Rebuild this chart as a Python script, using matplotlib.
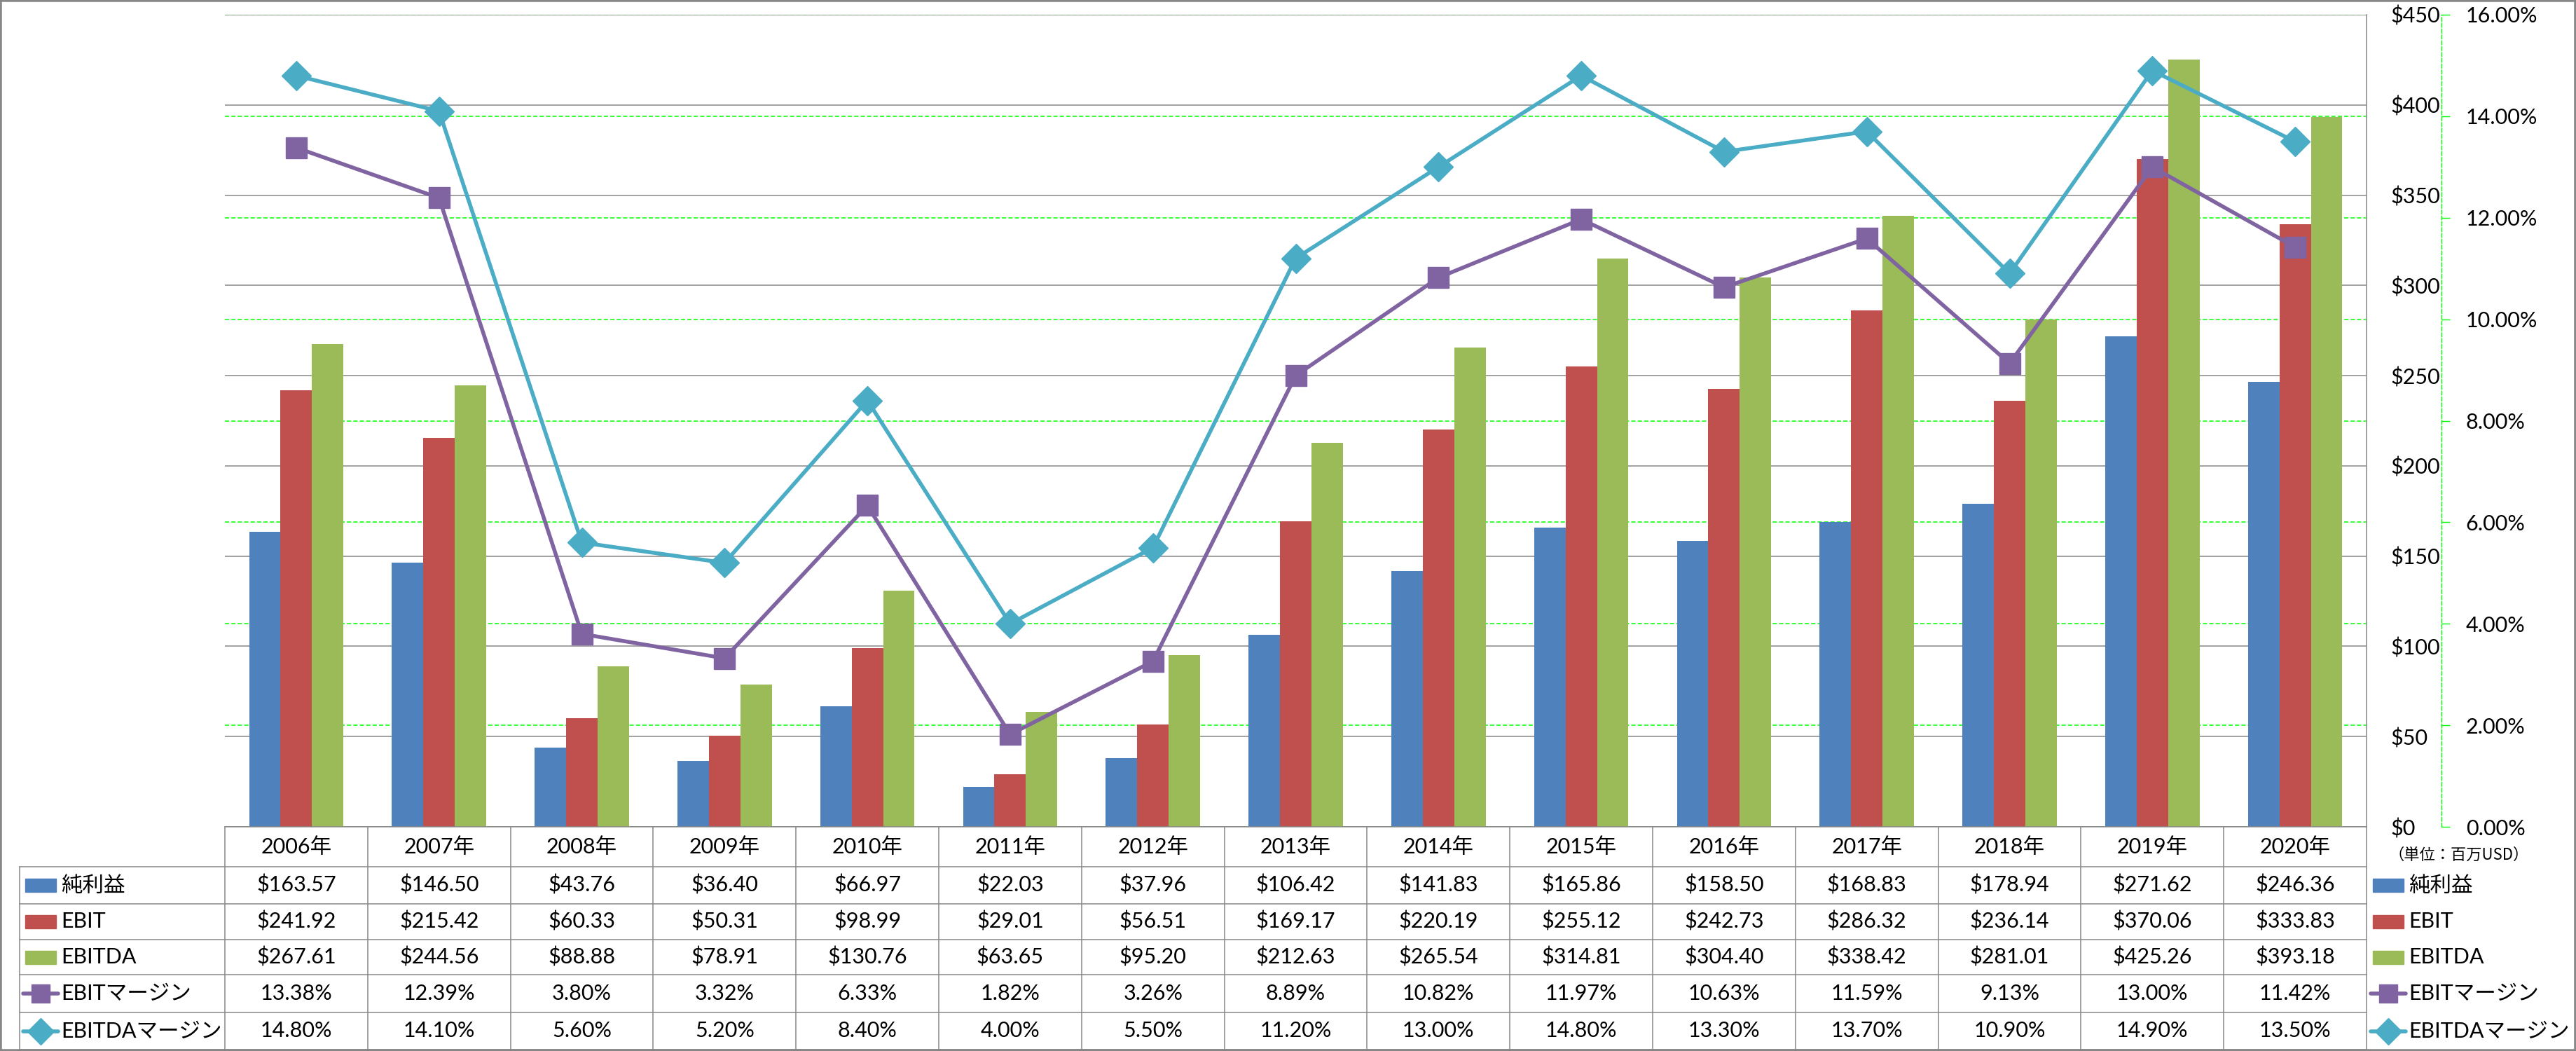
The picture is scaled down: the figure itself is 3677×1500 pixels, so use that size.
import numpy as np
import matplotlib
matplotlib.use("Agg")
import matplotlib.pyplot as plt
from matplotlib.lines import Line2D
from matplotlib.patches import Rectangle
from matplotlib import transforms
from matplotlib.ticker import FuncFormatter, MultipleLocator

plt.rcParams['font.family'] = ['Lato', 'Noto Sans CJK JP', 'DejaVu Sans']

# Data (million USD / percent)
years = ["2006年", "2007年", "2008年", "2009年", "2010年", "2011年", "2012年", "2013年",
         "2014年", "2015年", "2016年", "2017年", "2018年", "2019年", "2020年"]
net_income = [163.57, 146.50, 43.76, 36.40, 66.97, 22.03, 37.96, 106.42,
              141.83, 165.86, 158.50, 168.83, 178.94, 271.62, 246.36]
ebit = [241.92, 215.42, 60.33, 50.31, 98.99, 29.01, 56.51, 169.17,
        220.19, 255.12, 242.73, 286.32, 236.14, 370.06, 333.83]
ebitda = [267.61, 244.56, 88.88, 78.91, 130.76, 63.65, 95.20, 212.63,
          265.54, 314.81, 304.40, 338.42, 281.01, 425.26, 393.18]
ebit_margin = [13.38, 12.39, 3.80, 3.32, 6.33, 1.82, 3.26, 8.89,
               10.82, 11.97, 10.63, 11.59, 9.13, 13.00, 11.42]
ebitda_margin = [14.80, 14.10, 5.60, 5.20, 8.40, 4.00, 5.50, 11.20,
                 13.00, 14.80, 13.30, 13.70, 10.90, 14.90, 13.50]

series_names = ["純利益", "EBIT", "EBITDA", "EBITマージン", "EBITDAマージン"]
unit_label = "（単位：百万USD）"

BLUE, RED, GREEN = "#4F81BD", "#C0504D", "#9BBB59"
PURPLE, CYAN = "#8064A2", "#4BACC6"
GRAY = "#878787"
LIME = "#00FF00"

W, H, DPI = 3677, 1500, 100
FS = 22


def fx(x):
    return x / W


def fy(y):
    return 1 - y / H


fig = plt.figure(figsize=(W / DPI, H / DPI), dpi=DPI)
fig.patch.set_facecolor("white")

# plot area in pixels
left, right, top, bottom = 321, 3378, 21, 1180
rect = [fx(left), fy(bottom), (right - left) / W, (bottom - top) / H]

ax = fig.add_axes(rect)
ax_pct = ax.twinx()
ax_line = ax.twinx()
ax_pct.set_zorder(0)
ax.set_zorder(1)
ax_line.set_zorder(2)
ax.patch.set_visible(False)
ax_line.patch.set_visible(False)

x = np.arange(len(years))
bw = 0.22

# bars
ax.bar(x - bw, net_income, bw, color=BLUE, zorder=2)
ax.bar(x, ebit, bw, color=RED, zorder=2)
ax.bar(x + bw, ebitda, bw, color=GREEN, zorder=2)
ax.set_xlim(-0.5, len(years) - 0.5)
ax.set_ylim(0, 450)
ax.yaxis.set_major_locator(MultipleLocator(50))
ax.yaxis.set_major_formatter(FuncFormatter(lambda v, p: f"${v:.0f}"))
ax.yaxis.tick_right()
ax.tick_params(axis='y', length=0, pad=24.5, labelsize=FS)
ax.set_xticks([])
ax.yaxis.grid(True, color=GRAY, lw=1.1)
ax.set_axisbelow(True)
for s in ["left", "top", "bottom"]:
    ax.spines[s].set_visible(False)
ax.spines["right"].set_color(GRAY)
ax.spines["right"].set_linewidth(1.1)

# percent axis (ticks + green grid)
ax_pct.set_ylim(0, 16)
ax_pct.yaxis.set_major_locator(MultipleLocator(2))
ax_pct.yaxis.set_major_formatter(FuncFormatter(lambda v, p: f"{v:.2f}%"))
ax_pct.tick_params(axis='y', length=8.6, width=1, color=LIME, pad=16.5, labelsize=FS)
ax_pct.yaxis.grid(True, color=LIME, lw=1.1, ls=(0, (4, 2)))
for s in ["left", "top", "bottom"]:
    ax_pct.spines[s].set_visible(False)
ax_pct.spines["right"].set_position(("outward", 77))
ax_pct.spines["right"].set_color(LIME)
ax_pct.spines["right"].set_linestyle((0, (4, 2)))
ax_pct.spines["right"].set_linewidth(1.0)

# margin lines
ax_line.set_ylim(0, 16)
ax_line.plot(x, ebit_margin, color=PURPLE, lw=4, marker="s", ms=21,
             mec=PURPLE, mfc=PURPLE, mew=1, solid_joinstyle="round")
ax_line.plot(x, ebitda_margin, color=CYAN, lw=4, marker="D", ms=21,
             mec=CYAN, mfc=CYAN, mew=1, solid_joinstyle="round")
ax_line.set_yticks([])
ax_line.set_xticks([])
for s in ax_line.spines.values():
    s.set_visible(False)

# data table
blend = transforms.blended_transform_factory(ax.transData, fig.transFigure)
row_edges = [1180, 1237, 1290, 1341, 1391, 1445, 1498]
tab_left = 28


def hline(x0, x1, y, **kw):
    fig.add_artist(Line2D([fx(x0), fx(x1)], [fy(y), fy(y)], transform=fig.transFigure,
                          color=GRAY, lw=1.1, **kw))


def vline(xp, y0, y1):
    fig.add_artist(Line2D([fx(xp), fx(xp)], [fy(y0), fy(y1)], transform=fig.transFigure,
                          color=GRAY, lw=1.1))


hline(left, right, row_edges[0])
for yy in row_edges[1:]:
    hline(tab_left, right, yy)
vline(tab_left, row_edges[1], row_edges[-1])
for k in range(len(years) + 1):
    ax.add_artist(Line2D([k - 0.5, k - 0.5], [fy(row_edges[0]), fy(row_edges[-1])],
                         transform=blend, color=GRAY, lw=1.1, clip_on=False))

centers = [(row_edges[i] + row_edges[i + 1]) / 2 for i in range(len(row_edges) - 1)]

for i, yl in enumerate(years):
    ax.text(i, fy(centers[0]), yl, transform=blend, ha="center", va="center",
            fontsize=FS, clip_on=False)

table_rows = [
    (series_names[0], [f"${v:.2f}" for v in net_income], "bar", BLUE, None),
    (series_names[1], [f"${v:.2f}" for v in ebit], "bar", RED, None),
    (series_names[2], [f"${v:.2f}" for v in ebitda], "bar", GREEN, None),
    (series_names[3], [f"{v:.2f}%" for v in ebit_margin], "line", PURPLE, "s"),
    (series_names[4], [f"{v:.2f}%" for v in ebitda_margin], "line", CYAN, "D"),
]


def legend_key(x0, x1, yc, kind, color, marker, ms):
    if kind == "bar":
        fig.add_artist(Rectangle((fx(x0), fy(yc + 9.5)), (x1 - x0) / W, 19 / H,
                                 transform=fig.transFigure, color=color))
    else:
        fig.add_artist(Line2D([fx(x0 - 3), fx(x1 + 3)], [fy(yc), fy(yc)],
                              transform=fig.transFigure, color=color, lw=4,
                              solid_capstyle="round"))
        fig.add_artist(Line2D([fx((x0 + x1) / 2)], [fy(yc)], transform=fig.transFigure,
                              color=color, marker=marker, ms=ms, mec=color, mfc=color))


for r, (name, vals, kind, color, marker) in enumerate(table_rows):
    yc = centers[r + 1]
    for i, v in enumerate(vals):
        ax.text(i, fy(yc), v, transform=blend, ha="center", va="center",
                fontsize=FS, clip_on=False)
    # left label column
    legend_key(36, 80, yc, kind, color, marker, 19)
    fig.text(fx(87), fy(yc), name, ha="left", va="center", fontsize=FS)
    # right legend
    legend_key(3387, 3431, yc, kind, color, marker, 19)
    fig.text(fx(3438), fy(yc), name, ha="left", va="center", fontsize=FS)

fig.text(fx(3510), fy(1220), unit_label, ha="center", va="center", fontsize=16,
         family=["Noto Sans CJK JP"])

# outer border
fig.add_artist(Rectangle((0, 0), 1, 1, transform=fig.transFigure, fill=False,
                         edgecolor=GRAY, lw=4))

fig.savefig("out.png", dpi=DPI)
